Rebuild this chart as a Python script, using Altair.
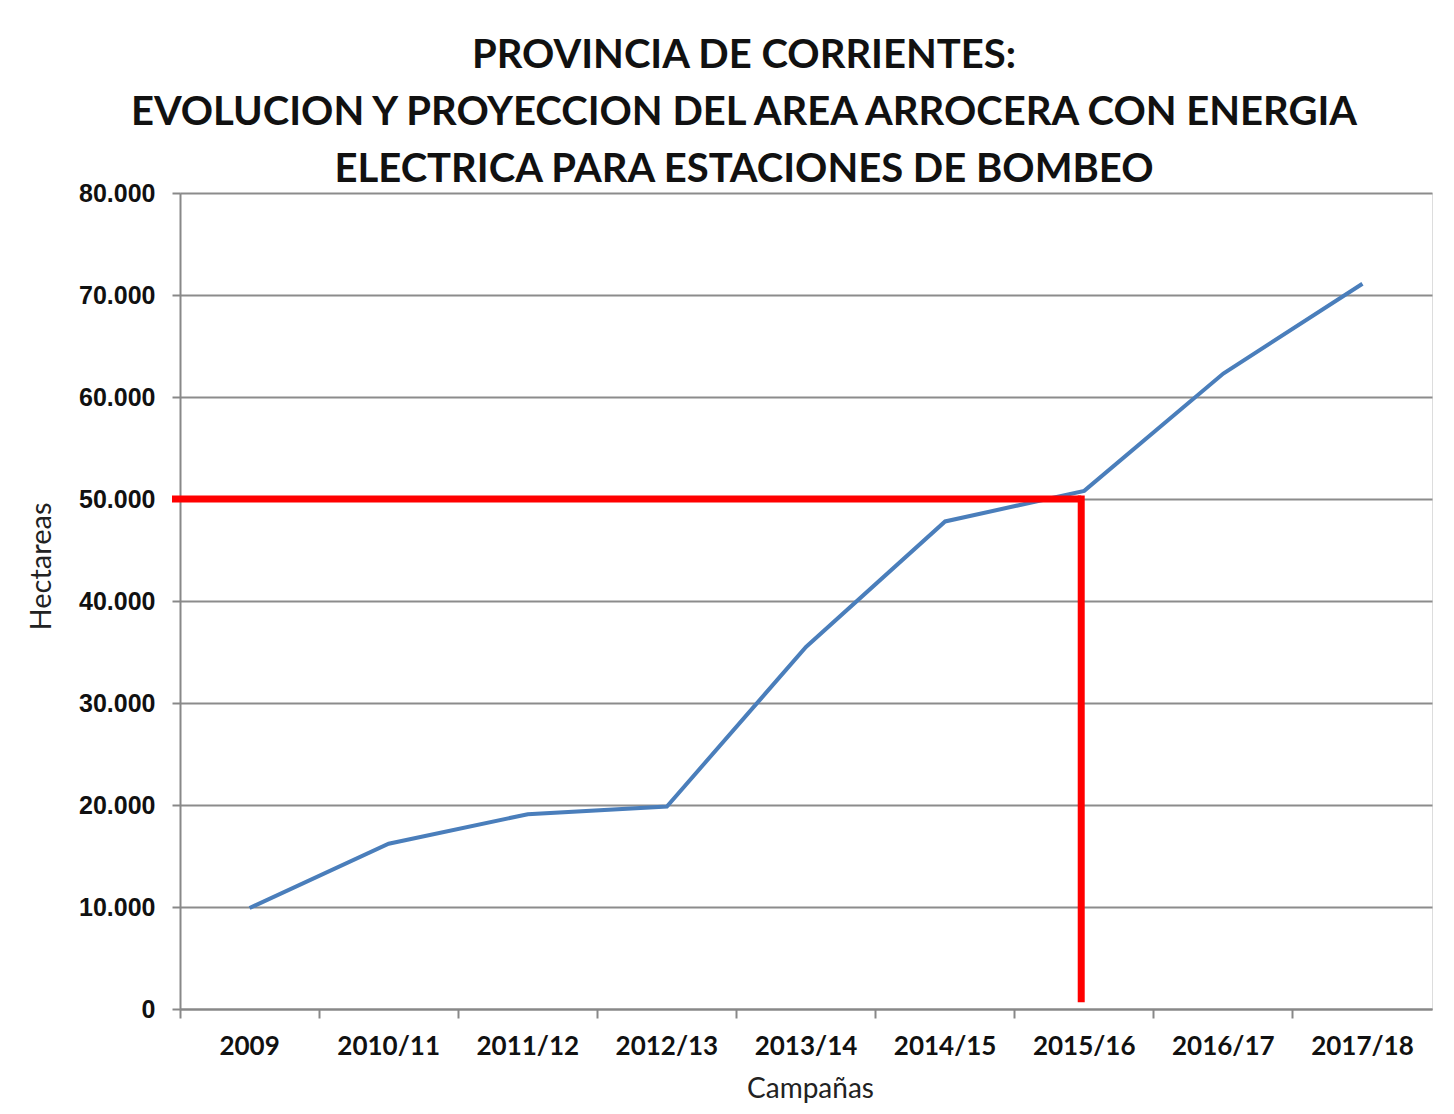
import altair as alt
import pandas as pd

campaigns = ["2009", "2010/11", "2011/12", "2012/13", "2013/14",
             "2014/15", "2015/16", "2016/17", "2017/18"]
hectares = [9900, 16200, 19100, 19850, 35500, 47800, 50800, 62300, 71100]

ref_value = [50000]
ref_start = ["2009"]
ref_campaign = ["2015/16"]
ref_bottom = [1000]

title_lines = ["PROVINCIA DE CORRIENTES:",
               "EVOLUCION Y PROYECCION DEL AREA ARROCERA CON ENERGIA",
               "ELECTRICA PARA ESTACIONES DE BOMBEO"]

df = pd.DataFrame({"campana": campaigns, "ha": hectares})
ref = pd.DataFrame({"start": ref_start, "campana": ref_campaign,
                    "value": ref_value, "bottom": ref_bottom})

W, H = 1252, 816
FONT = "Lato"

x_enc = alt.X(
    "campana:N", sort=campaigns,
    scale=alt.Scale(domain=campaigns, paddingInner=0, paddingOuter=0),
    axis=alt.Axis(
        title="Campañas", titleFont=FONT, titleFontSize=28, titleFontWeight="normal",
        titleColor="#222", titleX=630, titleY=88, titleBaseline="alphabetic",
        labelFont=FONT, labelFontSize=26, labelFontWeight="bold", labelColor="#111",
        labelAngle=0, labelPadding=15, bandPosition=0, tickSize=9,
        tickColor="#888", tickWidth=2, domainColor="#888", domainWidth=2, grid=False,
    ),
)

y_enc = alt.Y(
    "ha:Q",
    scale=alt.Scale(domain=[0, 80000], nice=False, zero=True),
    axis=alt.Axis(
        title="Hectareas", titleFont=FONT, titleFontSize=29, titleFontWeight="normal",
        titleColor="#222", titleX=-130, titleY=373, titleBaseline="alphabetic",
        titleAlign="center", titleAngle=-90,
        values=list(range(0, 80001, 10000)),
        labelExpr="replace(format(datum.value, ','), ',', '.')",
        labelFont="Liberation Sans", labelFontSize=25, labelFontWeight="bold",
        labelColor="#111", labelPadding=17, tickSize=8, tickColor="#888", tickWidth=2,
        domainColor="#888", domainWidth=2, gridColor="#8c8c8c", gridWidth=2,
    ),
)

line = alt.Chart(df).mark_line(color="#4A7EBB", strokeWidth=4).encode(x=x_enc, y=y_enc)

hline = alt.Chart(ref).mark_rule(color="#ff0000", strokeWidth=7, xOffset=-8, x2Offset=-3).encode(
    x=alt.X("start:N", sort=campaigns, bandPosition=0),
    x2=alt.X2("campana:N", bandPosition=0.5),
    y="value:Q",
)

vline = alt.Chart(ref).mark_rule(color="#ff0000", strokeWidth=7, strokeCap="square", xOffset=-3).encode(
    x=alt.X("campana:N", sort=campaigns),
    y="value:Q",
    y2="bottom:Q",
)

chart = alt.layer(line, hline, vline).properties(
    width=W, height=H,
    title=alt.TitleParams(
        text=title_lines, font=FONT, fontSize=40, fontWeight="bold", color="#111",
        anchor="middle", dx=-62, dy=17, lineHeight=57, offset=8,
    ),
    autosize=alt.AutoSizeParams(type="none"),
    padding={"left": 172, "top": 185, "right": 14, "bottom": 97},
).configure_view(stroke=None).configure(background="white")

chart.save("out.html", embed_options={"renderer": "svg", "actions": False})
